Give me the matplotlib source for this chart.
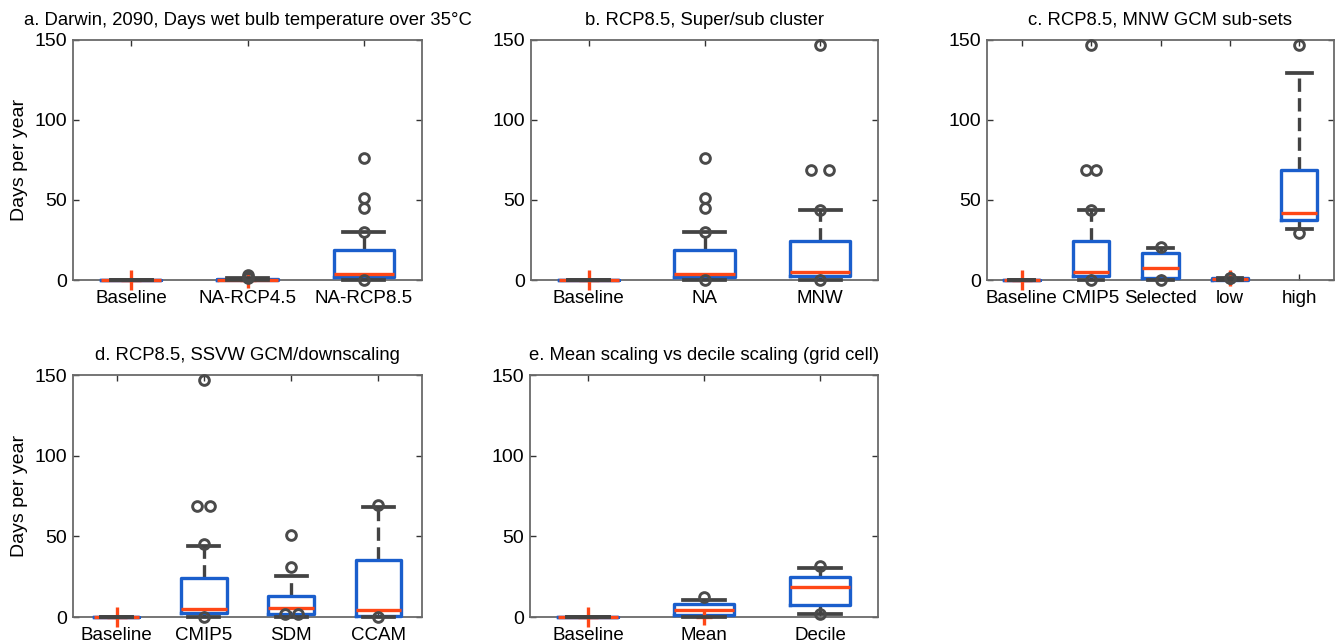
import numpy as np
import matplotlib
matplotlib.use("Agg")
import matplotlib.pyplot as plt

plt.rcParams['font.family'] = ['Liberation Sans', 'DejaVu Sans']

# ---------------- data (box statistics) ----------------
a_title = "a. Darwin, 2090, Days wet bulb temperature over 35\u00b0C"
a_labels = ['Baseline', 'NA-RCP4.5', 'NA-RCP8.5']
a_q1 = [0, 0, 2]
a_med = [0, 0, 4]
a_q3 = [0, 0.5, 19]
a_whislo = [0, 0, 0]
a_whishi = [0, 1.5, 30]
a_fliers = [[], [1, 2, 3], [0, 30, 45, 51, 76]]
a_plus = [[0], [0], []]

b_title = "b. RCP8.5, Super/sub cluster"
b_labels = ['Baseline', 'NA', 'MNW']
b_q1 = [0, 2, 2.5]
b_med = [0, 4, 5]
b_q3 = [0, 19, 24.5]
b_whislo = [0, 0, 0]
b_whishi = [0, 30, 44]
b_fliers = [[], [0, 30, 45, 51, 76], [0, 44, 69, 69, 147]]
b_plus = [[0], [], []]

c_title = "c. RCP8.5, MNW GCM sub-sets"
c_labels = ['Baseline', 'CMIP5', 'Selected', 'low', 'high']
c_q1 = [0, 2.5, 1, 0, 37.5]
c_med = [0, 5, 7.3, 0.5, 42]
c_q3 = [0, 24.5, 16.7, 1, 68.8]
c_whislo = [0, 0, 0, 0, 31.7]
c_whishi = [0, 44, 19.8, 1.5, 129.6]
c_fliers = [[], [0, 44, 69, 69, 147], [0, 20.8], [1, 1.5], [29.5, 147]]
c_plus = [[0], [], [], [1], []]

d_title = "d. RCP8.5, SSVW GCM/downscaling"
d_labels = ['Baseline', 'CMIP5', 'SDM', 'CCAM']
d_q1 = [0, 2.5, 2, 0.4]
d_med = [0, 5, 5.8, 4.1]
d_q3 = [0, 24.2, 13.2, 35.2]
d_whislo = [0, 0, 0, 0]
d_whishi = [0, 44, 25.4, 67.9]
d_fliers = [[], [0, 45, 68.5, 68.5, 147], [1.6, 1.6, 30.7, 50.7], [0, 69.2]]
d_plus = [[0], [], [], []]

e_title = "e. Mean scaling vs decile scaling (grid cell)"
e_labels = ['Baseline', 'Mean', 'Decile']
e_q1 = [0, 1, 7.2]
e_med = [0, 4.1, 18.6]
e_q3 = [0, 8.3, 24.8]
e_whislo = [0, 0, 2.1]
e_whishi = [0, 10.8, 30.6]
e_fliers = [[], [12.4], [2, 31.7]]
e_plus = [[0], [0], []]

y_ticks = [0, 50, 100, 150]
y_label = "Days per year"

# ---------------- styling ----------------
BLUE = '#1a5ecc'
RED = '#ff4716'
DARK = '#434343'
CIRC = '#4a4a4a'
SPINE = '#6a6a6a'

W, H = 1343, 642
fig = plt.figure(figsize=(W / 100, H / 100), dpi=100)


def ax_rect(left, top, right, bottom):
    return [left / W, 1 - bottom / H, (right - left) / W, (bottom - top) / H]


panels = [
    (a_title, a_labels, a_q1, a_med, a_q3, a_whislo, a_whishi, a_fliers, a_plus, ax_rect(73, 40, 422, 280), True),
    (b_title, b_labels, b_q1, b_med, b_q3, b_whislo, b_whishi, b_fliers, b_plus, ax_rect(531, 40, 878, 280), False),
    (c_title, c_labels, c_q1, c_med, c_q3, c_whislo, c_whishi, c_fliers, c_plus, ax_rect(987, 40, 1334, 280), False),
    (d_title, d_labels, d_q1, d_med, d_q3, d_whislo, d_whishi, d_fliers, d_plus, ax_rect(73, 375, 422, 617), True),
    (e_title, e_labels, e_q1, e_med, e_q3, e_whislo, e_whishi, e_fliers, e_plus, ax_rect(530, 375, 878, 617), False),
]

BOX_W = 0.52
JIT = 0.075

for (title, labels, q1, med, q3, wlo, whi, fliers, plus, rect, ylab) in panels:
    ax = fig.add_axes(rect)
    n = len(labels)
    pos = np.arange(1, n + 1)
    stats = []
    for i in range(n):
        stats.append(dict(med=med[i], q1=q1[i], q3=q3[i], whislo=wlo[i], whishi=whi[i], fliers=[]))
    arts = ax.bxp(stats, positions=pos, widths=BOX_W, capwidths=BOX_W * 0.68,
                  showfliers=False, manage_ticks=False,
                  boxprops=dict(color=BLUE, linewidth=2.4, zorder=3),
                  medianprops=dict(color=RED, linewidth=2.4, zorder=4, solid_capstyle='butt'),
                  whiskerprops=dict(color=DARK, linewidth=2.4, linestyle=(0, (4.0, 1.9)), zorder=2),
                  capprops=dict(color=DARK, linewidth=2.7, zorder=5))
    for key in arts:
        for art in arts[key]:
            art.set_clip_on(False)
    # outliers (duplicate values spread symmetrically, as in the original)
    for i in range(n):
        vals = fliers[i]
        xs = []
        seen = {}
        for v in vals:
            k = vals.count(v)
            j = seen.get(v, 0)
            seen[v] = j + 1
            off = (j - (k - 1) / 2) * 2 * JIT if k > 1 else 0.0
            xs.append(pos[i] + off)
        if vals:
            ax.plot(xs, vals, linestyle='none', marker='o', markersize=7,
                    markerfacecolor='none', markeredgecolor=CIRC, markeredgewidth=2.1,
                    zorder=6, clip_on=False)
        if plus[i]:
            ax.plot([pos[i]] * len(plus[i]), plus[i], linestyle='none', marker='+',
                    markersize=15 if i == 0 else 11, markeredgewidth=2.4, color=RED,
                    zorder=4.5, clip_on=False)

    ax.set_xlim(0.5, n + 0.5)
    ax.set_ylim(0, 150)
    ax.set_yticks(y_ticks)
    ax.set_xticks(pos)
    ax.set_xticklabels(labels, fontsize=13.5)
    ax.tick_params(axis='y', labelsize=14, pad=4)
    ax.tick_params(axis='x', pad=7)
    ax.tick_params(direction='in', length=4, width=1.0, color='#333333',
                   top=True, right=True)
    for sp in ax.spines.values():
        sp.set_color(SPINE)
        sp.set_linewidth(1.3)
    ax.set_title(title, fontsize=13.3, pad=11)
    if ylab:
        ax.set_ylabel(y_label, fontsize=14)
        ax.yaxis.set_label_coords(-0.128, 0.5)

fig.savefig("out.png", dpi=100, facecolor='white')
